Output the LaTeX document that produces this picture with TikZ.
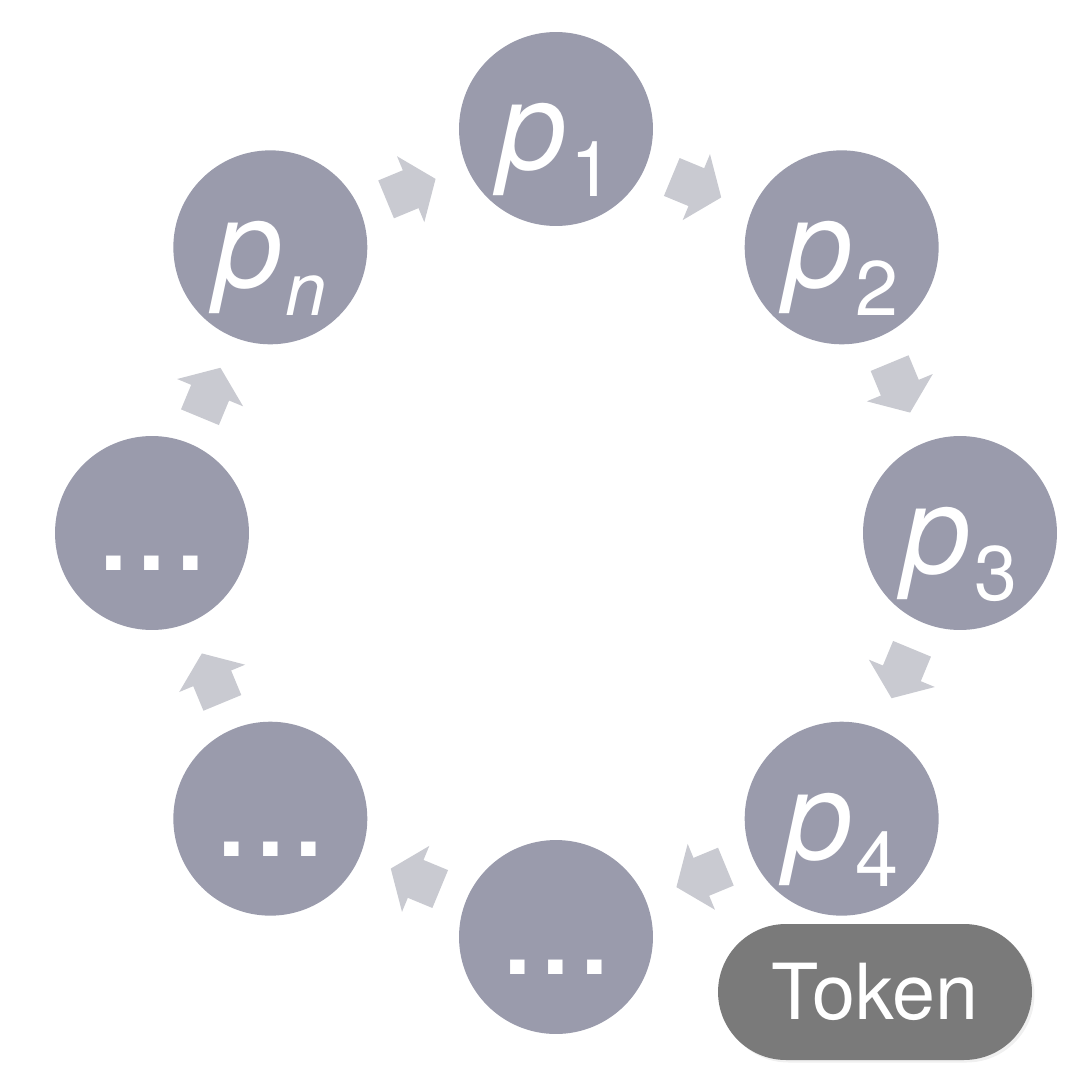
\documentclass[tikz,border=0pt]{standalone}
\usepackage{fontspec}
\setsansfont{TeX Gyre Heros}
\usepackage{tikz}
\usetikzlibrary{arrows.meta, positioning, shadows}

\definecolor{procgray}{RGB}{154,155,172}
\definecolor{arrowgray}{RGB}{201,202,209}
\definecolor{tokengray}{RGB}{122,122,122}

% p with a lowered subscript
\newcommand{\proclabel}[1]{{\itshape p}\hspace{0.06cm}\raisebox{-0.55cm}{\fontsize{44}{44}\selectfont #1}}

\begin{document}
\begin{tikzpicture} [x=0.02cm, y=0.02cm,
		% define styles
		procnodestyle/.style={
			% The shape:
			circle,
			% The size:
			minimum size=3.88cm,
			inner sep=0pt,
			text height=1.62cm,
			text depth=0pt,
			% The filling:
			fill=procgray,
			% Font
			text=white,
			font=\sffamily\fontsize{70}{70}\selectfont
		},
		dotsnodestyle/.style={
			procnodestyle,
			text height=1.5cm,
			% Font
			font=\sffamily\fontsize{79}{79}\selectfont
		},
		tokennodestyle/.style={
			% The shape:
			rectangle,
			% The size:
			minimum width=6.28cm,
			minimum height=2.72cm,
			% The filling:
			fill=tokengray,
			drop shadow={opacity=0.12, shadow xshift=0.05cm, shadow yshift=-0.05cm},
			% Corners
			rounded corners=1.36cm,
			% Font
			text=white,
			font=\sffamily\fontsize{44}{44}\selectfont
		},
		arrow/.style={
			-{Triangle[width=1.4cm, length=0.54cm]},
			% Thickness
			line width=0.82cm,
			% Color
			arrowgray,
			shorten <=0.56cm,
			shorten >=0.66cm
		}]
		% end of style definition

		\useasboundingbox (-556,-557) rectangle (536,533);

		% draw nodes
		\node (iP1) [procnodestyle] at (90:404) {\proclabel{1}};
		\node (iP2) [procnodestyle] at (45:404) {\proclabel{2}};
		\node (iP3) [procnodestyle] at (0:404) {\proclabel{3}};
		\node (iP4) [procnodestyle] at (-45:404) {\proclabel{4}};
		\node (iDotsA) [dotsnodestyle] at (-90:404) {...};
		\node (iDotsB) [dotsnodestyle] at (-135:404) {...};
		\node (iDotsC) [dotsnodestyle] at (180:404) {...};
		\node (iPn) [procnodestyle] at (135:404) {{\itshape p}\hspace{0.06cm}\raisebox{-0.55cm}{\fontsize{42}{42}\selectfont\itshape n}};

		\node (iToken) [tokennodestyle] at (319,-459) {Token};

		% connect nodes
		\draw [arrow] (iP1) -- (iP2);
		\draw [arrow] (iP2) -- (iP3);
		\draw [arrow] (iP3) -- (iP4);
		\draw [arrow] (iP4) -- (iDotsA);
		\draw [arrow] (iDotsA) -- (iDotsB);
		\draw [arrow] (iDotsB) -- (iDotsC);
		\draw [arrow] (iDotsC) -- (iPn);
		\draw [arrow] (iPn) -- (iP1);
	\end{tikzpicture}
\end{document}
